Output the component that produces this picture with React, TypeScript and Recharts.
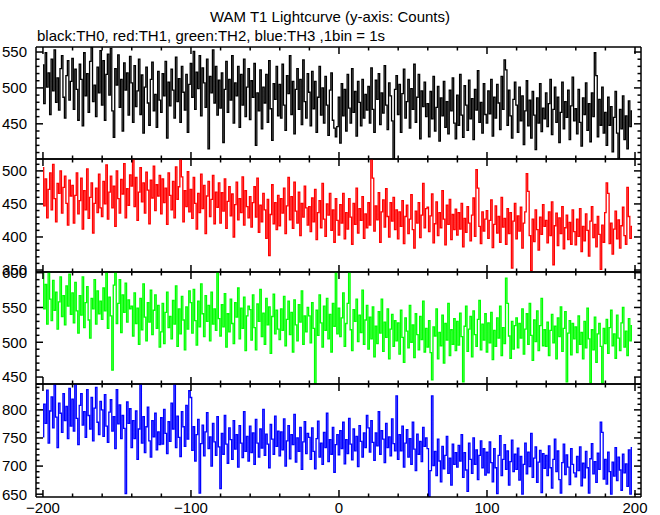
import React from "react";
import { LineChart, Line, XAxis, YAxis } from "recharts";

// first bin of the light curve, 1 bin = 1 s
const T0 = -200;

// TH0 (black)
const TH0 = [
  532, 478, 549, 501, 521, 463, 540, 496, 553, 480, 514, 469, 527, 545, 487, 458, 517, 538, 483, 509,
  541, 470, 526, 498, 455, 533, 512, 447, 549, 489, 520, 466, 537, 556, 481, 504, 460, 529, 493, 552,
  476, 538, 455, 519, 547, 490, 555, 468, 431, 527, 504, 546, 473, 512, 440, 535, 497, 521, 462, 544,
  507, 452, 531, 474, 496, 540, 463, 518, 437, 501, 529, 479, 448, 512, 536, 468, 491, 445, 523, 483,
  466, 520, 489, 537, 430, 508, 475, 526, 497, 458, 543, 481, 513, 452, 530, 494, 469, 519, 438, 505,
  534, 487, 551, 470, 522, 499, 545, 461, 528, 507, 473, 540, 415, 516, 493, 553, 479, 530, 462, 511,
  472, 521, 424, 498, 537, 466, 512, 483, 545, 451, 507, 489, 530, 445, 519, 476, 540, 460, 501, 527,
  456, 510, 487, 534, 420, 493, 468, 525, 443, 501, 479, 519, 452, 538, 471, 427, 506, 484, 530, 461,
  505, 458, 533, 476, 441, 517, 492, 545, 463, 509, 436, 498, 527, 470, 512, 449, 539, 481, 458, 520,
  494, 447, 523, 471, 509, 438, 487, 530, 462, 500, 451, 516, 476, 434, 497, 521, 455, 444, 432, 446,
  487, 423, 506, 461, 498, 440, 519, 472, 451, 527, 466, 495, 433, 509, 480, 447, 512, 458, 491, 469,
  502, 451, 528, 470, 438, 511, 484, 520, 449, 493, 465, 531, 476, 442, 507, 489, 454, 401, 498, 517,
  463, 505, 438, 492, 526, 458, 481, 512, 444, 499, 470, 533, 452, 487, 519, 429, 496, 474, 508, 460,
  478, 432, 495, 457, 516, 440, 473, 502, 426, 486, 461, 509, 445, 481, 436, 497, 468, 514, 451, 429,
  490, 448, 519, 462, 431, 503, 476, 441, 511, 457, 485, 428, 498, 469, 524, 452, 480, 437, 506, 463,
  451, 496, 464, 512, 433, 487, 458, 505, 479, 442, 516, 470, 539, 525, 448, 497, 461, 430, 484, 508,
  476, 438, 501, 454, 489, 421, 468, 510, 447, 483, 430, 495, 462, 414, 486, 451, 506, 439, 472, 457,
  493, 446, 478, 512, 435, 470, 501, 452, 487, 424, 466, 508, 443, 481, 459, 497, 428, 475, 515, 454,
  471, 436, 498, 452, 419, 486, 463, 507, 441, 478, 425, 493, 460, 549, 517, 432, 484, 448, 501, 437,
  466, 420, 487, 448, 474, 411, 459, 495, 437, 402, 470, 443, 489, 428, 461, 415, 482, 446, 468,
];

// TH1 (red)
const TH1 = [
  505, 447, 488, 429, 472, 497, 441, 510, 458, 423, 481, 466, 500, 436, 475, 492, 451, 418, 486, 462,
  478, 421, 463, 497, 435, 455, 489, 412, 470, 441, 503, 428, 460, 482, 406, 451, 474, 437, 495, 444,
  431, 484, 450, 509, 427, 468, 492, 444, 477, 416, 500, 458, 436, 487, 465, 511, 429, 473, 448, 494,
  477, 518, 446, 490, 425, 468, 505, 453, 482, 436, 498, 471, 420, 486, 459, 507, 440, 479, 462, 493,
  435, 488, 452, 474, 419, 497, 463, 441, 484, 429, 506, 457, 476, 518, 491, 423, 470, 446, 499, 438,
  472, 428, 490, 451, 412, 466, 437, 495, 443, 478, 405, 462, 484, 431, 457, 493, 420, 468, 445, 482,
  421, 467, 439, 488, 413, 454, 476, 432, 465, 400, 449, 483, 426, 458, 437, 491, 418, 470, 446, 429,
  461, 415, 452, 476, 430, 489, 407, 448, 423, 466, 441, 398, 457, 372, 434, 479, 420, 452, 411, 463,
  417, 458, 436, 474, 405, 447, 490, 426, 461, 413, 483, 439, 421, 468, 402, 451, 430, 477, 444, 418,
  446, 408, 459, 423, 472, 396, 437, 455, 414, 481, 427, 401, 450, 433, 466, 410, 441, 392, 458, 425,
  403, 449, 421, 466, 397, 437, 412, 458, 430, 389, 451, 419, 474, 406, 443, 425, 461, 398, 435, 414,
  452, 418, 518, 489, 409, 447, 426, 467, 392, 438, 456, 415, 473, 431, 400, 452, 424, 460, 411, 441,
  397, 438, 416, 455, 390, 431, 448, 405, 427, 464, 411, 383, 439, 421, 452, 399, 433, 481, 414, 443,
  445, 408, 432, 465, 391, 420, 453, 402, 437, 414, 470, 427, 388, 448, 419, 457, 396, 434, 411, 442,
  403, 437, 412, 451, 385, 428, 407, 446, 421, 394, 433, 459, 401, 502, 474, 416, 390, 438, 409, 427,
  440, 398, 425, 456, 384, 419, 447, 406, 431, 392, 460, 415, 428, 389, 443, 405, 437, 353, 424, 451,
  397, 432, 409, 445, 383, 421, 438, 496, 469, 402, 349, 427, 393, 441, 411, 380, 430, 404, 449, 416,
  425, 391, 438, 402, 453, 358, 417, 436, 387, 429, 405, 446, 382, 414, 433, 396, 422, 389, 441, 408,
  388, 427, 401, 443, 378, 416, 394, 435, 410, 371, 424, 446, 399, 419, 385, 431, 404, 351, 418, 392,
  437, 482, 466, 390, 421, 374, 412, 439, 397, 426, 383, 417, 445, 402, 389, 475, 431, 398, 416,
];

// TH2 (green)
const TH2 = [
  600, 548, 583, 526, 600, 562, 531, 589, 546, 572, 519, 558, 594, 537, 567, 525, 581, 552, 598, 540,
  571, 528, 586, 545, 513, 567, 539, 594, 521, 557, 580, 532, 506, 563, 548, 590, 526, 574, 541, 559,
  533, 578, 545, 600, 520, 565, 538, 460, 582, 600, 527, 556, 590, 514, 568, 543, 585, 529, 561, 548,
  552, 509, 571, 527, 549, 497, 563, 518, 584, 536, 502, 557, 529, 575, 511, 546, 568, 520, 553, 493,
  515, 556, 498, 543, 572, 521, 537, 505, 560, 526, 581, 494, 548, 512, 566, 532, 489, 551, 519, 574,
  557, 513, 576, 531, 496, 559, 522, 584, 541, 508, 567, 530, 553, 502, 572, 526, 548, 517, 600, 534,
  509, 554, 522, 570, 493, 541, 515, 562, 527, 498, 557, 536, 578, 505, 549, 520, 565, 488, 538, 552,
  547, 503, 568, 521, 489, 555, 530, 576, 508, 542, 497, 563, 525, 551, 484, 537, 569, 512, 546, 519,
  504, 548, 517, 566, 495, 533, 559, 511, 543, 486, 561, 525, 502, 554, 529, 574, 497, 538, 515, 550,
  538, 499, 557, 520, 441, 546, 510, 568, 528, 493, 552, 517, 563, 505, 540, 486, 556, 523, 600, 512,
  549, 508, 535, 571, 494, 527, 556, 600, 518, 488, 547, 530, 562, 501, 539, 514, 575, 497, 532, 553,
  490, 536, 505, 551, 479, 523, 498, 544, 513, 562, 487, 529, 507, 548, 476, 519, 540, 494, 531, 502,
  528, 483, 546, 507, 471, 535, 516, 492, 553, 500, 525, 478, 541, 511, 489, 537, 504, 559, 486, 520,
  493, 531, 485, 446, 522, 509, 548, 476, 514, 495, 539, 470, 527, 503, 556, 481, 518, 497, 534, 488,
  530, 496, 542, 508, 443, 523, 552, 487, 519, 537, 479, 545, 511, 494, 533, 560, 489, 526, 503, 541,
  486, 528, 499, 543, 475, 517, 494, 535, 506, 552, 481, 521, 498, 592, 556, 509, 477, 530, 490, 524,
  535, 492, 527, 506, 548, 483, 519, 541, 497, 556, 510, 474, 532, 501, 545, 488, 524, 563, 495, 518,
  494, 529, 481, 517, 540, 499, 523, 476, 535, 508, 551, 487, 520, 544, 443, 513, 531, 482, 527, 505,
  522, 485, 538, 497, 514, 476, 530, 492, 549, 505, 442, 518, 489, 536, 471, 512, 527, 494, 441, 520,
  498, 533, 484, 521, 546, 495, 512, 477, 539, 506, 488, 528, 550, 493, 516, 481, 534, 502, 524,
];

// TH3 (blue)
const TH3 = [
  752, 810, 776, 835, 741, 798, 823, 768, 845, 787, 733, 812, 794, 760, 829, 781, 806, 749, 838, 771,
  819, 762, 846, 785, 738, 808, 829, 773, 797, 751, 836, 790, 766, 822, 745, 803, 840, 778, 756, 815,
  800, 753, 827, 771, 742, 796, 818, 762, 788, 731, 836, 775, 809, 749, 790, 767, 651, 814, 776, 802,
  733, 781, 749, 798, 712, 766, 846, 741, 788, 724, 770, 805, 745, 716, 781, 752, 794, 729, 761, 738,
  786, 739, 801, 758, 722, 779, 744, 812, 766, 846, 733, 789, 751, 717, 797, 770, 735, 808, 748, 834,
  822, 728, 770, 709, 756, 783, 652, 740, 773, 718, 761, 795, 731, 752, 700, 776, 743, 719, 788, 734,
  660, 758, 721, 790, 739, 705, 768, 747, 712, 781, 730, 756, 698, 772, 741, 715, 797, 726, 753, 709,
  771, 724, 759, 703, 783, 741, 716, 766, 732, 801, 719, 757, 739, 697, 774, 748, 721, 789, 735, 762,
  718, 761, 729, 784, 700, 745, 772, 713, 756, 738, 792, 707, 750, 726, 769, 694, 743, 779, 722, 758,
  751, 712, 768, 726, 695, 749, 780, 716, 741, 703, 760, 733, 794, 708, 747, 721, 769, 689, 738, 756,
  720, 763, 731, 778, 704, 747, 722, 785, 739, 711, 766, 727, 753, 699, 772, 744, 716, 759, 733, 790,
  768, 725, 781, 742, 710, 759, 736, 797, 721, 763, 748, 706, 776, 733, 752, 718, 784, 740, 727, 825,
  712, 756, 727, 771, 698, 741, 765, 716, 749, 703, 778, 730, 692, 757, 721, 744, 708, 769, 735, 750,
  731, 645, 692, 825, 701, 726, 683, 748, 709, 672, 735, 695, 719, 753, 687, 714, 666, 739, 703, 724,
  698, 737, 709, 756, 680, 724, 693, 655, 741, 712, 687, 750, 703, 729, 676, 719, 745, 697, 731, 684,
  725, 688, 743, 706, 672, 731, 697, 651, 719, 754, 683, 712, 738, 694, 727, 666, 708, 746, 690, 721,
  694, 732, 675, 717, 650, 703, 741, 686, 725, 699, 758, 680, 714, 734, 671, 707, 728, 653, 722, 696,
  719, 683, 736, 697, 661, 712, 748, 690, 727, 676, 652, 706, 739, 685, 720, 698, 667, 731, 703, 688,
  681, 717, 692, 734, 665, 705, 679, 726, 697, 652, 713, 740, 686, 708, 671, 723, 694, 778, 760, 677,
  712, 668, 725, 690, 650, 707, 682, 733, 674, 716, 693, 657, 721, 688, 704, 664, 729, 650, 733,
];

const X_TICKS = [-200, -180, -160, -140, -120, -100, -80, -60, -40, -20, 0, 20, 40, 60, 80, 100, 120, 140, 160, 180, 200];
const X_MAJOR = [-200, -100, 0, 100, 200];

const Y_TICKS_TH0 = [410, 420, 430, 440, 450, 460, 470, 480, 490, 500, 510, 520, 530, 540, 550];
const Y_TICKS_TH1 = [350, 360, 370, 380, 390, 400, 410, 420, 430, 440, 450, 460, 470, 480, 490, 500, 510];
const Y_TICKS_TH2 = [440, 450, 460, 470, 480, 490, 500, 510, 520, 530, 540, 550, 560, 570, 580, 590, 600];
const Y_TICKS_TH3 = [650, 660, 670, 680, 690, 700, 710, 720, 730, 740, 750, 760, 770, 780, 790, 800, 810, 820, 830, 840];

const rows = TH0.map((v, i) => ({ t: T0 + i, th0: v, th1: TH1[i], th2: TH2[i], th3: TH3[i] }));

const FONT = "'Liberation Sans', Arial, Helvetica, sans-serif";
const PLOT_LEFT = 36;
const PLOT_RIGHT = 641;
const X_DOMAIN: [number, number] = [-204.7, 204.05];

const panels = [
  { key: "th0", color: "#000000", top: 47, bottom: 159, domain: [401, 557], ticks: Y_TICKS_TH0 },
  { key: "th1", color: "#ff0000", top: 159, bottom: 272, domain: [347, 518], ticks: Y_TICKS_TH1 },
  { key: "th2", color: "#00ff00", top: 272, bottom: 384, domain: [440, 601], ticks: Y_TICKS_TH2 },
  { key: "th3", color: "#0000ff", top: 384, bottom: 497, domain: [645, 846], ticks: Y_TICKS_TH3 },
];

const fmt = (v: number) => (v < 0 ? "\u2212" + Math.abs(v) : String(v));

const xTick = (side: "top" | "bottom", labels: boolean) => (props: any) => {
  const { x, y, payload } = props;
  const v = payload.value;
  const major = X_MAJOR.includes(v);
  const len = major ? 7 : 3.5;
  const dir = side === "bottom" ? -1 : 1;
  return (
    <g>
      <line x1={x} x2={x} y1={y} y2={y + dir * len} stroke="#000" strokeWidth={1.5} />
      {labels && major && (
        <text x={x} y={y + 16} textAnchor="middle" fontSize={15} fontFamily={FONT} fill="#000">
          {fmt(v)}
        </text>
      )}
    </g>
  );
};

const yTick = (side: "left" | "right") => (props: any) => {
  const { x, y, payload } = props;
  const v = payload.value;
  const major = v % 50 === 0;
  const len = major ? 7 : 3.5;
  const dir = side === "left" ? 1 : -1;
  return (
    <g>
      <line x1={x} x2={x + dir * len} y1={y} y2={y} stroke="#000" strokeWidth={1.5} />
      {side === "left" && major && (
        <text x={x - 9} y={y} dy="0.36em" textAnchor="end" fontSize={15} fontFamily={FONT} fill="#000">
          {v}
        </text>
      )}
    </g>
  );
};

const Panel: React.FC<{ p: (typeof panels)[number]; last: boolean }> = ({ p, last }) => {
  const padTop = 12;
  const padBottom = last ? 30 : 12;
  const h = p.bottom - p.top + padTop + padBottom;
  // axes are 1px wide/high so they render; margins shrink by the same amount
  return (
    <div style={{ position: "absolute", left: 0, top: p.top - padTop }}>
      <LineChart
        width={660}
        height={h}
        data={rows}
        margin={{ top: padTop - 1, bottom: padBottom - 1, left: PLOT_LEFT - 1, right: 660 - PLOT_RIGHT - 1 }}
      >
        <XAxis
          xAxisId="b"
          dataKey="t"
          type="number"
          orientation="bottom"
          domain={X_DOMAIN}
          allowDataOverflow
          ticks={X_TICKS}
          interval={0}
          height={1}
          tickSize={0}
          tickMargin={0}
          tickLine={false}
          axisLine={{ stroke: "#000", strokeWidth: 1.5 }}
          tick={xTick("bottom", last)}
        />
        <XAxis
          xAxisId="t"
          dataKey="t"
          type="number"
          orientation="top"
          domain={X_DOMAIN}
          allowDataOverflow
          ticks={X_TICKS}
          interval={0}
          height={1}
          tickSize={0}
          tickMargin={0}
          tickLine={false}
          axisLine={{ stroke: "#000", strokeWidth: 1.5 }}
          tick={xTick("top", false)}
        />
        <YAxis
          yAxisId="l"
          type="number"
          orientation="left"
          domain={p.domain}
          allowDataOverflow
          ticks={p.ticks}
          interval={0}
          width={1}
          tickSize={0}
          tickMargin={0}
          tickLine={false}
          axisLine={{ stroke: "#000", strokeWidth: 1.5 }}
          tick={yTick("left")}
        />
        <YAxis
          yAxisId="r"
          type="number"
          orientation="right"
          domain={p.domain}
          allowDataOverflow
          ticks={p.ticks}
          interval={0}
          width={1}
          tickSize={0}
          tickMargin={0}
          tickLine={false}
          axisLine={{ stroke: "#000", strokeWidth: 1.5 }}
          tick={yTick("right")}
        />
        <Line
          xAxisId="b"
          yAxisId="l"
          dataKey={p.key}
          type="step"
          stroke={p.color}
          strokeWidth={1.3}
          dot={false}
          isAnimationActive={false}
        />
      </LineChart>
    </div>
  );
};

export default function App() {
  return (
    <div style={{ position: "absolute", left: 0, top: 0, width: 660, height: 515, background: "#fff", fontFamily: FONT }}>
      <div style={{ position: "absolute", left: 0, width: 660, top: 8, textAlign: "center", fontSize: 15, lineHeight: "18px" }}>
        WAM T1 Lightcurve (y-axis: Counts)
      </div>
      <div style={{ position: "absolute", left: 37, top: 27, fontSize: 15, lineHeight: "18px" }}>
        black:TH0, red:TH1, green:TH2, blue:TH3 ,1bin = 1s
      </div>
      {panels.map((p, i) => (
        <Panel key={p.key} p={p} last={i === panels.length - 1} />
      ))}
    </div>
  );
}
